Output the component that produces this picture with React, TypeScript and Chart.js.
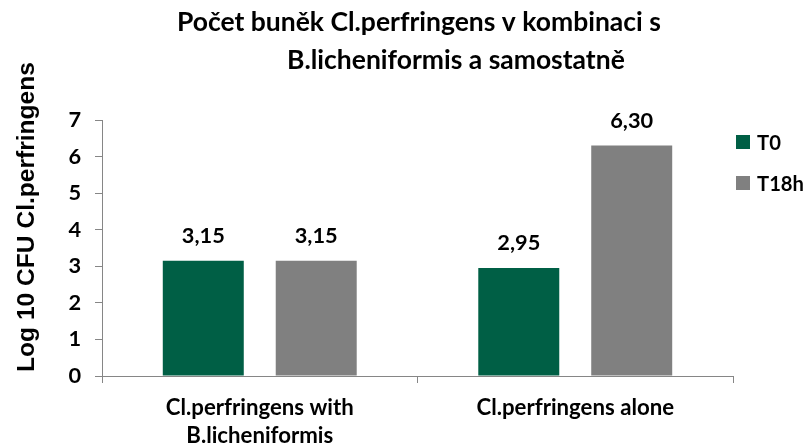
import React, { useEffect, useRef } from "react";
import { Chart, registerables } from "chart.js";

Chart.register(...registerables);

const categories: string[][] = [["Cl.perfringens with", "B.licheniformis"], ["Cl.perfringens alone"]];
const seriesNames: string[] = ["T0", "T18h"];
const t0Values: number[] = [3.15, 2.95];
const t18hValues: number[] = [3.15, 6.3];
const yTicks: number[] = [0, 1, 2, 3, 4, 5, 6, 7];
const titleLines: string[] = ["Počet buněk Cl.perfringens v kombinaci s", "B.licheniformis a samostatně"];
const yTitle = "Log 10 CFU Cl.perfringens";

const GREEN = "#005F45";
const GRAY = "#808080";
const AXIS = "#868686";
const SANS = "Lato";
const ARIAL = "'Liberation Sans'";

function fitSize(text: string, family: string, target: number): number {
  const c = document.createElement("canvas").getContext("2d")!;
  c.font = `bold 100px ${family}`;
  const w = c.measureText(text).width;
  return (100 * target) / w;
}

export default function App() {
  const ref = useRef<HTMLCanvasElement | null>(null);

  useEffect(() => {
    if (!ref.current) return;
    const catSize = fitSize("Cl.perfringens with", SANS, 188);
    const numSize = fitSize("3,15", SANS, 43);
    const legSize = fitSize("T18h", SANS, 47);
    const titleSize = fitSize(titleLines[0], SANS, 484);
    const yTitleSize = fitSize(yTitle, ARIAL, 310);

    const overlay = {
      id: "overlay",
      afterDatasetsDraw(chart: any) {
        const ctx = chart.ctx;
        ctx.save();
        ctx.fillStyle = "#000";
        ctx.textAlign = "center";
        ctx.textBaseline = "middle";
        ctx.font = `bold ${numSize}px ${SANS}`;
        chart.data.datasets.forEach((ds: any, i: number) => {
          const meta = chart.getDatasetMeta(i);
          meta.data.forEach((el: any, j: number) => {
            const v = ds.data[j] as number;
            ctx.fillText(v.toFixed(2).replace(".", ","), el.x, el.y - 25);
          });
        });
        ctx.restore();
      },
      afterDraw(chart: any) {
        const ctx = chart.ctx;
        ctx.save();
        ctx.fillStyle = "#000";
        // title
        ctx.textAlign = "left";
        ctx.textBaseline = "middle";
        ctx.font = `bold ${titleSize}px ${SANS}`;
        ctx.fillText(titleLines[0], 177, 22);
        ctx.fillText(titleLines[1], 287, 60);
        // y title
        ctx.save();
        ctx.translate(27, 217);
        ctx.rotate(-Math.PI / 2);
        ctx.textAlign = "center";
        ctx.font = `bold ${yTitleSize}px ${ARIAL}`;
        ctx.fillText(yTitle, 0, 0);
        ctx.restore();
        // legend
        ctx.font = `bold ${legSize}px ${SANS}`;
        ctx.textAlign = "left";
        chart.data.datasets.forEach((ds: any, i: number) => {
          const cy = 142 + i * 41;
          ctx.fillStyle = ds.backgroundColor;
          ctx.fillRect(736, cy - 7, 14, 14);
          ctx.fillStyle = "#000";
          ctx.fillText(ds.label, 757, cy + 1);
        });
        ctx.restore();
      },
    };

    const chart = new Chart(ref.current, {
      type: "bar",
      data: {
        labels: categories,
        datasets: [
          { label: seriesNames[0], data: t0Values, backgroundColor: GREEN },
          { label: seriesNames[1], data: t18hValues, backgroundColor: GRAY },
        ],
      },
      options: {
        responsive: false,
        animation: false,
        devicePixelRatio: 1,
        layout: { padding: { left: 0, right: 75, top: 120, bottom: 0 } },
        datasets: { bar: { categoryPercentage: 0.716, barPercentage: 0.717 } },
        plugins: { legend: { display: false }, title: { display: false }, tooltip: { enabled: false } },
        scales: {
          x: {
            offset: true,
            grid: { offset: true, drawOnChartArea: false, drawTicks: true, tickLength: 7, color: AXIS },
            border: { color: AXIS, width: 1 },
            ticks: {
              color: "#000",
              font: { family: SANS, weight: "bold", size: catSize, lineHeight: "28px" },
              padding: 11,
              maxRotation: 0,
              autoSkip: false,
            },
            afterFit: (s: any) => { s.height = 70; },
          },
          y: {
            min: 0,
            max: 7,
            afterBuildTicks: (s: any) => { s.ticks = yTicks.map((v) => ({ value: v })); },
            grid: { drawOnChartArea: false, drawTicks: true, tickLength: 7, color: AXIS },
            border: { color: AXIS, width: 1 },
            ticks: {
              color: "#000",
              font: { family: SANS, weight: "bold", size: numSize },
              padding: 14,
            },
            afterFit: (s: any) => { s.width = 102; },
          },
        },
      },
      plugins: [overlay],
    } as any);
    return () => chart.destroy();
  }, []);

  return (
    <div style={{ position: "absolute", left: 0, top: 0, width: 808, height: 446, background: "#fff" }}>
      <canvas ref={ref} width={808} height={446} style={{ width: 808, height: 446, display: "block" }} />
    </div>
  );
}
